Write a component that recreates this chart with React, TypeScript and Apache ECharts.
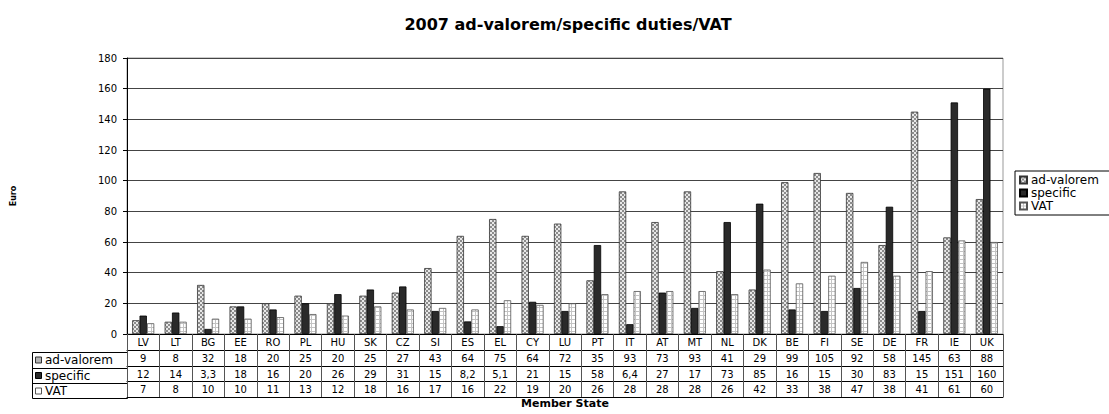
import React, { useEffect, useRef } from "react";
import * as echarts from "echarts";

const categories = ["LV", "LT", "BG", "EE", "RO", "PL", "HU", "SK", "CZ", "SI", "ES", "EL", "CY", "LU", "PT", "IT", "AT", "MT", "NL", "DK", "BE", "FI", "SE", "DE", "FR", "IE", "UK"];
const adValorem = [9, 8, 32, 18, 20, 25, 20, 25, 27, 43, 64, 75, 64, 72, 35, 93, 73, 93, 41, 29, 99, 105, 92, 58, 145, 63, 88];
const specific = [12, 14, 3.3, 18, 16, 20, 26, 29, 31, 15, 8.2, 5.1, 21, 15, 58, 6.4, 27, 17, 73, 85, 16, 15, 30, 83, 15, 151, 160];
const vat = [7, 8, 10, 10, 11, 13, 12, 18, 16, 17, 16, 22, 19, 20, 26, 28, 28, 28, 26, 42, 33, 38, 47, 38, 41, 61, 60];
const seriesNames = ["ad-valorem", "specific", "VAT"];
const yMin = 0;
const yMax = 180;
const yInterval = 20;

const F = "DejaVu Sans";

function fmt(v: number): string {
  return String(v).replace(".", ",");
}

function makePattern(w: number, h: number, draw: (ctx: CanvasRenderingContext2D) => void) {
  const c = document.createElement("canvas");
  c.width = w;
  c.height = h;
  const ctx = c.getContext("2d") as CanvasRenderingContext2D;
  draw(ctx);
  return { image: c, repeat: "repeat" };
}

export default function App() {
  const ref = useRef<HTMLDivElement>(null);

  useEffect(() => {
    document.body.style.margin = "0";
    if (!ref.current) return;
    const chart = echarts.init(ref.current, undefined, { renderer: "svg" });

    const adPat = makePattern(4, 4, (ctx) => {
      ctx.fillStyle = "#e8e8e8";
      ctx.fillRect(0, 0, 4, 4);
      ctx.fillStyle = "#8c8c8c";
      ctx.fillRect(0, 0, 2, 2);
      ctx.fillRect(2, 2, 2, 2);
    });
    const vatPat = makePattern(4, 4, (ctx) => {
      ctx.fillStyle = "#ffffff";
      ctx.fillRect(0, 0, 4, 4);
      ctx.fillStyle = "#c4c4c4";
      ctx.fillRect(0, 3, 4, 1);
      ctx.fillRect(3, 0, 1, 4);
    });
    const specColor = "#2a2a2a";

    const fills = [adPat, specColor, vatPat];
    const borders = ["#333333", "#000000", "#555555"];
    const keyFills = ["#b4b4b4", specColor, "#ffffff"];
    const dataSets = [adValorem, specific, vat];

    const baseAxis = {
      type: "category",
      data: categories,
      gridIndex: 0,
      position: "bottom",
      boundaryGap: true,
      splitLine: { show: false },
    };
    const labelStyle = { interval: 0, margin: 3, fontSize: 10, fontFamily: F, color: "#000" };
    const rowOffsets = [16, 32, 47];

    const rowCenters = [360, 375.5, 391];
    const graphic: any[] = [
      { type: "rect", shape: { x: 32.5, y: 352.5, width: 95, height: 46 }, style: { fill: "none", stroke: "#000", lineWidth: 1 } },
      { type: "line", shape: { x1: 32.5, y1: 368.5, x2: 127.5, y2: 368.5 }, style: { stroke: "#000", lineWidth: 1 } },
      { type: "line", shape: { x1: 32.5, y1: 383.5, x2: 127.5, y2: 383.5 }, style: { stroke: "#000", lineWidth: 1 } },
    ];
    seriesNames.forEach((n, i) => {
      graphic.push({
        type: "rect",
        shape: { x: 35.5, y: rowCenters[i] - 3, width: 6, height: 6 },
        style: { fill: keyFills[i], stroke: borders[i], lineWidth: 1 },
      });
      graphic.push({
        type: "text",
        x: 45,
        y: rowCenters[i],
        style: { text: n, fontSize: 12, fontFamily: F, fill: "#000", verticalAlign: "middle", align: "left" },
      });
    });

    chart.setOption({
      animation: false,
      backgroundColor: "#ffffff",
      title: {
        text: "2007 ad-valorem/specific duties/VAT",
        left: 563,
        textAlign: "center",
        top: 11,
        textStyle: { fontFamily: F, fontWeight: "bold", fontSize: 16, color: "#000" },
      },
      legend: {
        data: seriesNames,
        orient: "vertical",
        left: 1015,
        top: 171,
        icon: "rect",
        itemWidth: 7,
        itemHeight: 7,
        itemGap: 1,
        padding: [3, 12, 3, 4],
        borderColor: "#000",
        borderWidth: 1,
        textStyle: { fontFamily: F, fontSize: 12, color: "#000", padding: [0, 0, 0, -1] },
      },
      grid: {
        left: 127,
        right: 106,
        top: 58,
        bottom: 78,
        show: true,
        borderColor: "#999",
        borderWidth: 1,
      },
      xAxis: [
        {
          ...baseAxis,
          axisLine: { show: true, lineStyle: { color: "#000", width: 1 } },
          axisTick: { show: true, interval: 0, length: 63, lineStyle: { color: "#555", width: 1 } },
          axisLabel: labelStyle,
        },
        ...dataSets.map((vals, i) => ({
          ...baseAxis,
          offset: rowOffsets[i],
          axisLine: { show: true, lineStyle: { color: "#000", width: 1 } },
          axisTick: { show: false },
          axisLabel: { ...labelStyle, formatter: (_v: string, idx: number) => fmt(vals[idx]) },
        })),
        {
          ...baseAxis,
          offset: 63,
          axisLine: { show: true, lineStyle: { color: "#000", width: 1 } },
          axisTick: { show: false },
          axisLabel: { show: false },
          name: "Member State",
          nameLocation: "middle",
          nameGap: 1,
          nameTextStyle: { fontFamily: F, fontWeight: "bold", fontSize: 11, color: "#000", verticalAlign: "top" },
        },
      ],
      yAxis: {
        type: "value",
        min: yMin,
        max: yMax,
        interval: yInterval,
        name: "Euro",
        nameLocation: "middle",
        nameRotate: 90,
        nameGap: 110,
        nameTextStyle: { fontFamily: F, fontWeight: "bold", fontSize: 8, color: "#000" },
        axisLine: { show: true, lineStyle: { color: "#000", width: 1 } },
        axisTick: { show: true, length: 4, lineStyle: { color: "#000" } },
        axisLabel: { margin: 10, fontSize: 10, fontFamily: F, color: "#000" },
        splitLine: { show: true, lineStyle: { color: "#444", width: 1 } },
      },
      series: seriesNames.map((n, i) => ({
        type: "bar",
        name: n,
        data: dataSets[i],
        xAxisIndex: 0,
        yAxisIndex: 0,
        barGap: "0%",
        barCategoryGap: "32%",
        itemStyle: { color: fills[i], borderColor: borders[i], borderWidth: 0.8 },
      })),
      graphic,
    });

    return () => chart.dispose();
  }, []);

  return <div ref={ref} style={{ width: 1109, height: 414 }} />;
}
